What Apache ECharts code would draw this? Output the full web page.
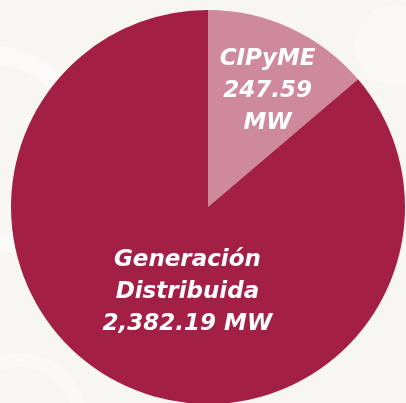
<!DOCTYPE html>
<html>
<head>
<meta charset="utf-8">
<script src="https://cdn.jsdelivr.net/npm/echarts@6/dist/echarts.min.js"></script>
<style>
html,body{margin:0;padding:0;background:#f8f6f2;}
#c{width:406px;height:403px;}
</style>
</head>
<body>
<div id="c"></div>
<script>
const categories = ['CIPyME', 'Generación\nDistribuida'];
const values = [247.59, 2382.19];
const valueLabels = ['247.59\nMW', '2,382.19 MW'];

const chart = echarts.init(document.getElementById('c'));
chart.setOption({
  backgroundColor: '#f8f6f2',
  animation: false,
  graphic: [
    {type: 'circle', z: 0, shape: {cx: -10, cy: 150, r: 95}, style: {fill: 'none', stroke: '#ffffff', lineWidth: 18, opacity: 0.45}},
    {type: 'circle', z: 0, shape: {cx: 20, cy: 420, r: 60}, style: {fill: 'none', stroke: '#ffffff', lineWidth: 14, opacity: 0.35}},
    {type: 'circle', z: 0, shape: {cx: 395, cy: 45, r: 40}, style: {fill: '#ffffff', opacity: 0.4}}
  ],
  series: [{
    type: 'pie',
    z: 5,
    center: [208, 207],
    radius: [0, 197],
    startAngle: 90,
    clockwise: true,
    minAngle: 49.6,
    avoidLabelOverlap: false,
    labelLine: {show: false},
    emphasis: {disabled: true},
    itemStyle: {borderWidth: 0},
    data: categories.map((c, i) => ({
      name: c,
      value: values[i],
      itemStyle: {color: i === 0 ? '#ce8a9c' : '#a31f45'},
      label: {
        offset: i === 0 ? [17, -24] : [22, -7]
      }
    })),
    label: {
      show: true,
      position: 'inside',
      color: '#ffffff',
      fontFamily: 'DejaVu Sans',
      fontWeight: 'bold',
      fontStyle: 'italic',
      fontSize: 23,
      lineHeight: 32,
      align: 'center',
      formatter: p => p.name + '\n' + valueLabels[p.dataIndex]
    }
  }]
});
</script>
</body>
</html>
